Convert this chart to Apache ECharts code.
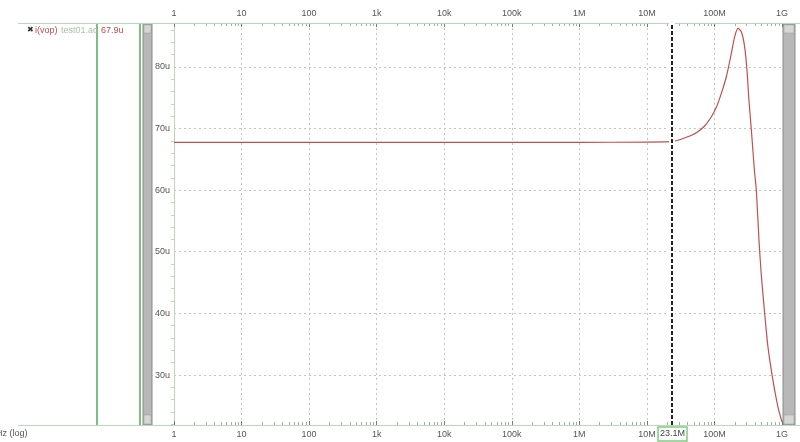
<!DOCTYPE html>
<html>
<head>
<meta charset="utf-8">
<script src="https://cdn.jsdelivr.net/npm/echarts@6/dist/echarts.min.js"></script>
<style>
html,body{margin:0;padding:0;background:#fff;}
#c{width:800px;height:442px;}
</style>
</head>
<body>
<div id="c"></div>
<script>
// ---- data ----
var freqHz = [1, 1e3, 1e6, 1e7, 2.17e7, 2.73e7, 3.84e7, 5.40e7, 7.16e7, 9.0e7, 1.067e8, 1.265e8, 1.50e8, 1.778e8, 1.99e8, 2.23e8, 2.50e8, 2.80e8, 3.03e8, 3.24e8, 3.52e8, 3.80e8, 3.94e8, 4.17e8, 4.56e8, 4.94e8, 5.53e8, 6.19e8, 7.33e8, 8.69e8, 1e9];
var vopMicro = [67.75, 67.75, 67.75, 67.78, 67.85, 68.0, 68.56, 69.30, 70.39, 71.90, 73.42, 75.69, 78.38, 82.17, 84.86, 86.22, 85.67, 83.24, 79.47, 74.60, 69.74, 64.88, 62.72, 60.02, 51.91, 46.24, 40.08, 34.62, 29.22, 24.89, 22.4];
var xTickValues = [1, 10, 100, 1e3, 1e4, 1e5, 1e6, 1e7, 1e8, 1e9];
var xTickLabels = ['1', '10', '100', '1k', '10k', '100k', '1M', '10M', '100M', '1G'];
var yTickValues = [30, 40, 50, 60, 70, 80];
var cursorHz = 23.1e6;
var cursorLabel = '23.1M';
var traceName = 'i(vop)';
var fileName = 'test01.ac';
var cursorValueLabel = '67.9u';
var xAxisName = 'Hz (log)';

// ---- chart ----
var chart = echarts.init(document.getElementById('c'), null, {renderer: 'canvas'});
var seriesData = freqHz.map(function (f, i) { return [f, vopMicro[i]]; });

function xLabel(v) {
  for (var i = 0; i < xTickValues.length; i++) {
    if (Math.abs(Math.log10(v) - Math.log10(xTickValues[i])) < 1e-6) return xTickLabels[i];
  }
  return '';
}

var axisGreen = '#b5dcb5';
var gridGrey = '#c4c4c4';
var labelCol = '#555';
var font = 'Liberation Sans, Arial, sans-serif';

var xCommon = {
  type: 'log', logBase: 10, min: 1, max: 1e9,
  axisLine: {show: true, lineStyle: {color: axisGreen, width: 1}},
  axisTick: {show: true, length: 4, inside: true, lineStyle: {color: '#777'}},
  minorTick: {show: true, splitNumber: 9, length: 3, lineStyle: {color: '#aaa'}},
  axisLabel: {color: labelCol, fontSize: 9, fontFamily: font, margin: 5, formatter: xLabel},
  splitLine: {show: false}
};

var option = {
  animation: false,
  backgroundColor: '#fff',
  grid: {left: 174, right: 18, top: 23, bottom: 17, containLabel: false},
  xAxis: [
    Object.assign({}, xCommon, {position: 'bottom',
      splitLine: {show: true, lineStyle: {color: gridGrey, type: [2, 3], width: 1}}}),
    Object.assign({}, xCommon, {position: 'top'})
  ],
  yAxis: {
    type: 'value', min: 21.9, max: 87.1,
    axisLine: {show: true, lineStyle: {color: axisGreen}},
    axisTick: {show: false},
    minorTick: {show: true, splitNumber: 5, length: 3, lineStyle: {color: '#ccc'}},
    axisLabel: {color: labelCol, fontSize: 9, fontFamily: font, margin: 4,
      showMinLabel: false, showMaxLabel: false,
      formatter: function (v) { return yTickValues.indexOf(Math.round(v)) >= 0 && Math.abs(v - Math.round(v)) < 1e-6 ? v + 'u' : ''; }},
    splitLine: {show: true, lineStyle: {color: gridGrey, type: [2, 3], width: 1}}
  },
  series: [{
    type: 'line', xAxisIndex: 0, data: seriesData, showSymbol: false, smooth: 0.25,
    lineStyle: {color: '#c0504d', width: 1.2},
    markLine: {
      silent: true, symbol: 'none', label: {show: false},
      data: [
        {xAxis: cursorHz, lineStyle: {color: '#fff', width: 6, type: 'solid'}},
        {xAxis: cursorHz, lineStyle: {color: '#222', width: 2, type: [4, 2]}}
      ]
    }
  }],
  graphic: [
    // top & bottom frame lines across the full width
    {type: 'line', shape: {x1: 18, y1: 23.5, x2: 800, y2: 23.5}, style: {stroke: axisGreen, lineWidth: 1}, z: 1},
    {type: 'line', shape: {x1: 18, y1: 425.5, x2: 800, y2: 425.5}, style: {stroke: axisGreen, lineWidth: 1}, z: 1},
    // left panel dividers
    {type: 'line', shape: {x1: 97, y1: 23, x2: 97, y2: 425}, style: {stroke: '#7dbf7d', lineWidth: 2}},
    {type: 'line', shape: {x1: 140, y1: 23, x2: 140, y2: 425}, style: {stroke: '#7dbf7d', lineWidth: 2}},
    // left scrollbar
    {type: 'rect', shape: {x: 143, y: 24, width: 9, height: 401}, style: {fill: '#b8b8b8', stroke: '#8a8a8a', lineWidth: 1}},
    {type: 'rect', shape: {x: 144, y: 25, width: 7, height: 8}, style: {fill: '#d6d6d6', stroke: '#999', lineWidth: 0.5}},
    {type: 'rect', shape: {x: 144, y: 415, width: 7, height: 9}, style: {fill: '#d6d6d6', stroke: '#999', lineWidth: 0.5}},
    // right scrollbar
    {type: 'rect', shape: {x: 783, y: 24, width: 12, height: 401}, style: {fill: '#b8b8b8', stroke: '#8a8a8a', lineWidth: 1}},
    {type: 'rect', shape: {x: 784, y: 25, width: 10, height: 8}, style: {fill: '#d6d6d6', stroke: '#999', lineWidth: 0.5}},
    {type: 'rect', shape: {x: 784, y: 415, width: 10, height: 9}, style: {fill: '#d6d6d6', stroke: '#999', lineWidth: 0.5}},
    // legend texts
    {type: 'text', x: 27, y: 26, style: {text: '✖', fill: '#333', font: '8px ' + font}},
    {type: 'text', x: 35, y: 26, style: {text: traceName, fill: '#c0504d', font: '9px ' + font}},
    {type: 'text', x: 61, y: 26, style: {text: fileName, fill: '#a9c4a9', font: '9px ' + font}},
    {type: 'text', x: 101, y: 26, style: {text: cursorValueLabel, fill: '#d04a4a', font: '9px ' + font}},
    // x axis name
    {type: 'text', x: -4, y: 429, style: {text: xAxisName, fill: '#555', font: '9px ' + font}},
    // cursor label box
    {type: 'rect', shape: {x: 658, y: 427, width: 29, height: 14}, style: {fill: '#fff', stroke: '#7dcf7d', lineWidth: 1.5}, z: 10},
    {type: 'text', x: 672.5, y: 434, style: {text: cursorLabel, fill: '#444', font: '9px ' + font, align: 'center', verticalAlign: 'middle'}, z: 11}
  ]
};
chart.setOption(option);
</script>
</body>
</html>
